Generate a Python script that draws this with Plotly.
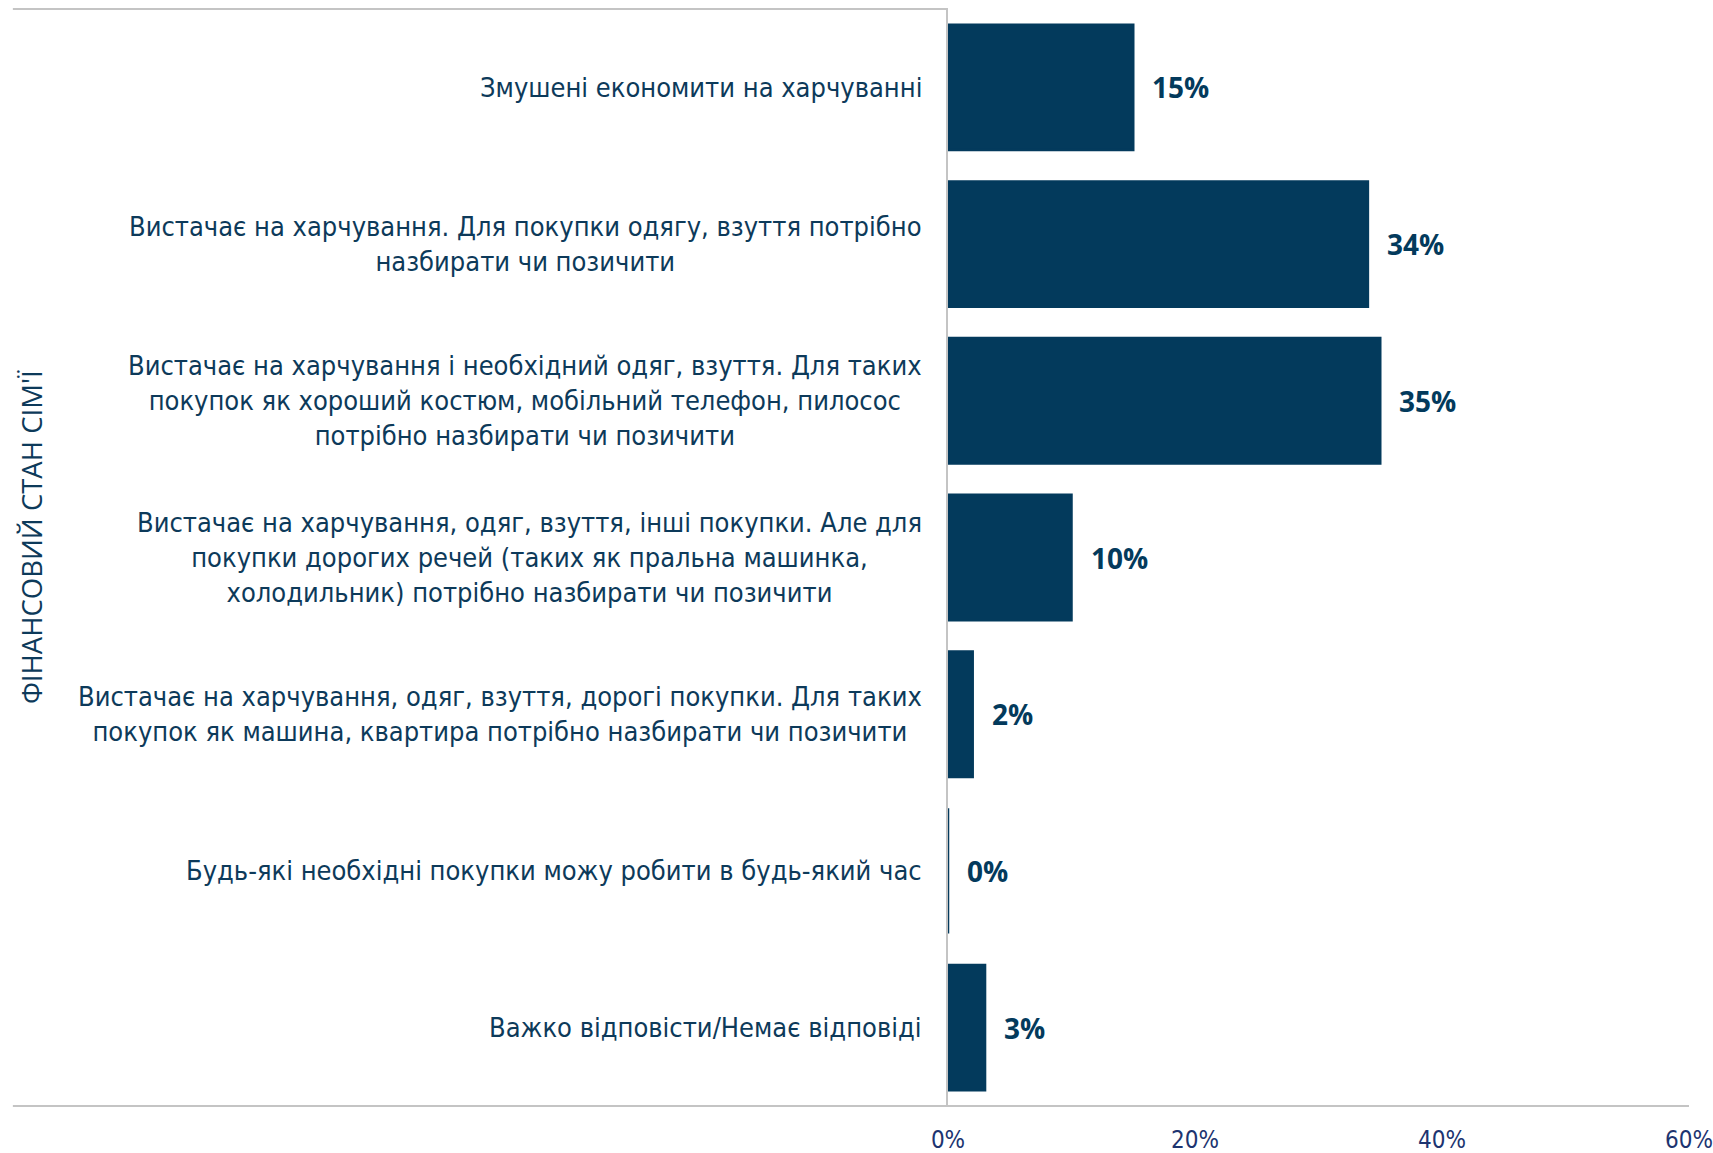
import plotly.graph_objects as go

# Survey answers (top to bottom) and their shares, %
categories = [
    "Змушені економити на харчуванні",
    "Вистачає на харчування. Для покупки одягу, взуття потрібно<br>назбирати чи позичити",
    "Вистачає на харчування і необхідний одяг, взуття. Для таких<br>покупок як хороший костюм, мобільний телефон, пилосос<br>потрібно назбирати чи позичити",
    "Вистачає на харчування, одяг, взуття, інші покупки. Але для<br>покупки дорогих речей (таких як пральна машинка,<br>холодильник) потрібно назбирати чи позичити",
    "Вистачає на харчування, одяг, взуття, дорогі покупки. Для таких<br>покупок як машина, квартира потрібно назбирати чи позичити",
    "Будь-які необхідні покупки можу робити в будь-який час",
    "Важко відповісти/Немає відповіді",
]
values = [15, 34, 35, 10, 2, 0, 3]
x_ticks = [0, 20, 40, 60]
x_tick_labels = ["0%", "20%", "40%", "60%"]
axis_title = "ФІНАНСОВИЙ СТАН СІМ'Ї"

BAR = "#033a5c"
TEXT = "#0d3a5a"
TICK = "#1d3470"
GRID = "#c4c4c4"
NARROW = "Liberation Sans Narrow, DejaVu Sans Condensed, Arial Narrow, sans-serif"

cat_idx = list(range(len(categories)))

fig = go.Figure()
fig.add_trace(go.Bar(
    x=values,
    y=cat_idx,
    orientation="h",
    marker=dict(color=BAR, line=dict(color=BAR, width=2.5)),
    hoverinfo="skip",
))

# value labels to the right of each bar
for i, v in zip(cat_idx, values):
    fig.add_annotation(
        x=v, y=i, xref="x", yref="y",
        text=f"{v}%", showarrow=False,
        xanchor="left", yanchor="middle", xshift=17,
        font=dict(family="Open Sans, sans-serif", size=28, color=BAR, weight="bold"),
    )

# category labels, centred line by line
for i, c in zip(cat_idx, categories):
    fig.add_annotation(
        x=0, y=i, xref="paper", yref="y",
        text=c, showarrow=False, align="center",
        xanchor="right", yanchor="middle", xshift=-24,
        font=dict(family=NARROW, size=27, color=TEXT),
    )

# rotated axis title
fig.add_annotation(
    x=-1.237, y=0.519, xref="paper", yref="paper",
    text=axis_title, showarrow=False, textangle=-90,
    xanchor="center", yanchor="middle",
    font=dict(family="Open Sans, sans-serif", size=27.5, color=TEXT),
)

# frame lines spanning the label area
fig.add_shape(type="line", xref="paper", yref="paper",
              x0=-1.262, x1=0, y0=1, y1=1, line=dict(color=GRID, width=2))
fig.add_shape(type="line", xref="paper", yref="paper",
              x0=-1.262, x1=1, y0=0, y1=0, line=dict(color=GRID, width=2))

fig.update_layout(
    width=1713, height=1153,
    margin=dict(l=948, r=24, t=9, b=47),
    paper_bgcolor="white", plot_bgcolor="white",
    bargap=0.2,
    showlegend=False,
    xaxis=dict(
        range=[0, 60], tickvals=x_ticks, ticktext=x_tick_labels,
        showgrid=False, zeroline=False, showline=False, automargin=False,
        ticks="", tickfont=dict(family=NARROW, size=24, color=TICK),
        ticklabelstandoff=17,
    ),
    yaxis=dict(
        range=[len(categories) - 0.5, -0.5], automargin=False,
        showticklabels=False, showgrid=False, zeroline=False,
        showline=True, linecolor=GRID, linewidth=2, ticks="",
        layer="below traces",
    ),
)

fig.write_html("out.html")
